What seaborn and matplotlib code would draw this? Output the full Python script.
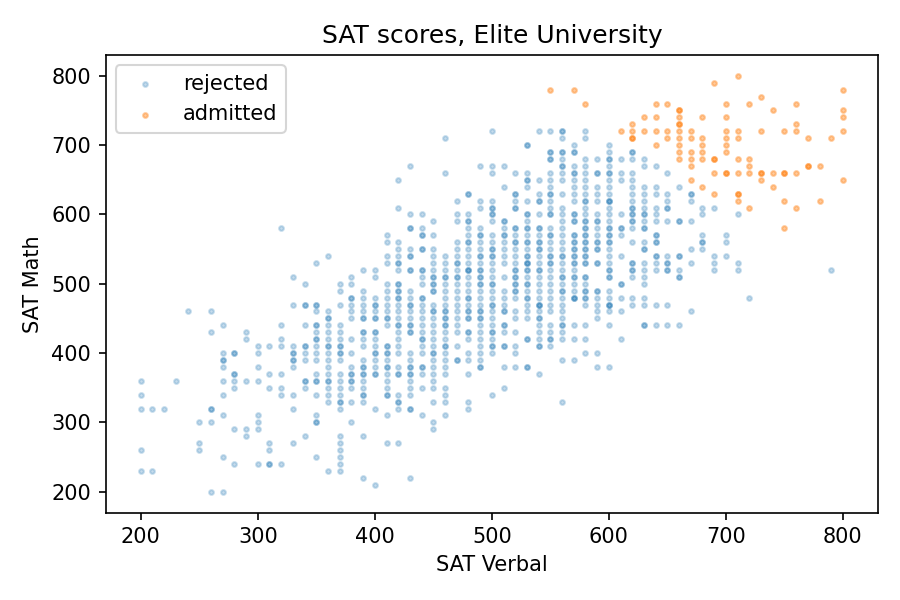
import matplotlib
matplotlib.use("Agg")
import matplotlib.pyplot as plt
import seaborn as sns
import pandas as pd

# Rejected applicants: SAT Math scores for each SAT Verbal column
r200 = [360, 340, 320, 260, 230]
r210 = [320, 230]
r220 = [320]
r230 = [360]
r240 = [460]
r250 = [300, 270, 260]
r260 = [460, 430, 320, 320, 300, 200]
r270 = [440, 400, 390, 390, 380, 360, 340, 310, 250, 200]
r280 = [400, 400, 370, 370, 360, 350, 290, 240]
r290 = [430, 420, 360, 290, 280]
r300 = [410, 400, 380, 360, 310, 300, 290, 240]
r310 = [410, 370, 350, 270, 260, 240, 240]
r320 = [580, 440, 420, 410, 370, 350, 340, 240]
r330 = [510, 470, 410, 400, 400, 390, 390, 380, 340, 320, 270]
r340 = [500, 470, 470, 440, 410, 410, 400, 390, 360, 360, 350, 280]
r350 = [530, 470, 470, 460, 440, 440, 430, 420, 420, 410, 400, 390, 370, 360, 360, 340, 310, 300, 300, 250]
r360 = [540, 460, 450, 450, 440, 430, 420, 410, 410, 400, 390, 380, 370, 360, 360, 350, 340, 330, 230]
r370 = [500, 490, 470, 440, 430, 420, 410, 410, 400, 400, 390, 370, 360, 350, 340, 330, 330, 320, 280, 270, 260, 250, 240, 230]
r380 = [510, 500, 480, 480, 470, 460, 450, 420, 400, 380, 370, 370, 360, 360, 350, 330, 300]
r390 = [520, 490, 480, 470, 460, 450, 450, 430, 430, 420, 410, 390, 380, 380, 370, 370, 360, 350, 340, 340, 330, 280, 220]
r400 = [520, 510, 480, 470, 470, 460, 450, 450, 430, 430, 420, 410, 400, 400, 390, 380, 370, 370, 320, 210]
r410 = [570, 560, 540, 530, 500, 490, 480, 470, 460, 450, 450, 440, 410, 410, 400, 400, 390, 380, 380, 370, 360, 350, 340, 340, 310, 270]
r420 = [650, 610, 560, 550, 540, 530, 530, 520, 500, 500, 490, 490, 480, 480, 470, 460, 450, 440, 440, 430, 420, 410, 400, 380, 370, 370, 340, 330, 330, 320, 270]
r430 = [670, 600, 580, 580, 550, 540, 540, 520, 520, 490, 480, 470, 470, 460, 450, 440, 440, 430, 430, 400, 390, 380, 380, 370, 370, 360, 350, 340, 320, 320, 220]
r440 = [600, 580, 570, 570, 550, 550, 520, 520, 510, 500, 480, 480, 470, 460, 450, 440, 430, 420, 420, 410, 400, 380, 380, 370, 350, 310]
r450 = [590, 570, 550, 540, 530, 520, 510, 510, 500, 500, 490, 490, 470, 460, 460, 450, 440, 430, 420, 410, 400, 400, 390, 380, 370, 360, 350, 330, 300, 290]
r460 = [710, 660, 540, 530, 520, 510, 510, 500, 490, 480, 470, 460, 460, 450, 450, 440, 440, 430, 420, 410, 410, 400, 390, 380, 370, 350, 340, 330, 310]
r470 = [620, 600, 590, 560, 550, 540, 530, 530, 520, 510, 510, 500, 490, 480, 470, 460, 450, 440, 430, 410, 390, 390]
r480 = [630, 630, 600, 590, 590, 580, 570, 560, 560, 550, 540, 530, 520, 520, 520, 510, 500, 490, 480, 480, 470, 460, 460, 450, 450, 430, 430, 420, 400, 390, 370, 330, 320]
r490 = [670, 620, 610, 580, 570, 570, 560, 550, 540, 540, 530, 520, 520, 510, 510, 500, 500, 490, 480, 470, 460, 460, 450, 450, 440, 430, 420, 410, 400, 390, 380, 380]
r500 = [720, 670, 660, 620, 610, 610, 600, 600, 590, 570, 560, 550, 550, 540, 540, 530, 520, 510, 500, 500, 490, 480, 470, 470, 460, 450, 440, 430, 430, 420, 410, 410, 400, 340]
r510 = [670, 640, 590, 590, 580, 570, 570, 560, 550, 540, 530, 510, 490, 480, 470, 460, 460, 440, 440, 430, 410, 410, 380, 350]
r520 = [660, 630, 630, 620, 610, 610, 580, 580, 570, 560, 560, 550, 540, 530, 520, 520, 510, 510, 500, 500, 490, 490, 480, 460, 450, 430, 410, 400, 380]
r530 = [700, 700, 660, 650, 650, 640, 620, 600, 600, 590, 580, 580, 570, 560, 560, 550, 540, 540, 530, 530, 530, 520, 520, 510, 500, 500, 490, 480, 480, 470, 460, 450, 420, 420, 380, 380]
r540 = [720, 650, 630, 620, 620, 600, 580, 580, 570, 560, 560, 550, 550, 540, 530, 520, 520, 510, 500, 490, 480, 470, 470, 470, 460, 450, 450, 440, 430, 420, 410, 410, 370]
r550 = [720, 690, 690, 680, 680, 660, 650, 640, 630, 630, 620, 610, 600, 600, 580, 570, 570, 560, 550, 540, 540, 530, 530, 520, 510, 500, 490, 480, 470, 460, 440, 430, 420, 420, 410]
r560 = [720, 720, 710, 690, 690, 680, 670, 670, 660, 650, 630, 610, 600, 590, 580, 570, 560, 550, 540, 540, 530, 520, 510, 510, 500, 490, 490, 480, 470, 460, 450, 440, 440, 430, 420, 390, 330]
r570 = [700, 690, 690, 670, 660, 660, 650, 640, 630, 620, 600, 600, 590, 590, 570, 570, 560, 560, 550, 550, 540, 540, 530, 530, 520, 510, 510, 500, 490, 480, 480, 480, 440, 420, 390]
r580 = [720, 710, 680, 670, 660, 650, 640, 630, 620, 620, 610, 600, 590, 590, 580, 580, 570, 570, 560, 560, 550, 550, 540, 540, 530, 530, 510, 510, 500, 490, 490, 480, 480, 470, 440, 420, 400]
r590 = [680, 660, 660, 640, 630, 620, 600, 590, 590, 580, 570, 560, 560, 550, 550, 530, 530, 490, 490, 480, 470, 460, 450, 400, 380]
r600 = [700, 690, 680, 680, 670, 660, 660, 650, 640, 630, 620, 620, 620, 610, 600, 590, 580, 580, 570, 570, 560, 560, 550, 540, 530, 520, 520, 510, 510, 490, 480, 470, 470, 470, 460, 440, 380]
r610 = [680, 660, 650, 600, 580, 580, 570, 540, 500, 500, 480, 460, 420]
r620 = [690, 690, 680, 660, 650, 640, 630, 620, 610, 610, 600, 600, 590, 590, 580, 560, 530, 530, 520, 520, 510, 480, 470]
r630 = [680, 670, 640, 630, 620, 610, 600, 600, 590, 580, 580, 560, 550, 550, 530, 520, 510, 500, 480, 470, 440, 440]
r640 = [670, 640, 630, 610, 600, 590, 570, 570, 560, 560, 540, 540, 530, 520, 470, 440]
r650 = [660, 630, 620, 610, 610, 590, 540, 530, 530, 520, 520, 470, 440]
r660 = [640, 590, 590, 540, 540, 520, 510, 510, 440]
r670 = [630, 630, 620, 590, 550, 530, 460]
r680 = [610, 600, 570, 560, 560, 550]
r690 = [610, 540, 530, 520]
r700 = [570, 560, 540]
r710 = [600, 530, 520]
r720 = [480]
r790 = [520]

# Admitted applicants: SAT Math scores for each SAT Verbal column
a550 = [780]
a570 = [780]
a580 = [760]
a610 = [720]
a620 = [730, 720, 710, 710]
a630 = [740, 720]
a640 = [760, 740, 720, 700]
a650 = [760, 720, 710]
a660 = [750, 750, 740, 730, 730, 720, 710, 700, 690, 680]
a670 = [720, 710, 690, 680, 670, 650]
a680 = [740, 710, 700, 690, 680, 640]
a690 = [790, 680, 680, 660, 630]
a700 = [760, 740, 720, 710, 700, 690, 660, 660]
a710 = [800, 720, 710, 680, 660, 630, 630, 620]
a720 = [760, 680, 670, 660, 610]
a730 = [770, 720, 660, 660, 650]
a740 = [750, 660, 640]
a750 = [720, 660, 660, 620, 580]
a760 = [760, 730, 720, 660, 610]
a770 = [710, 670, 670]
a780 = [670, 620]
a790 = [710]
a800 = [780, 750, 740, 720, 650]

rejected_cols = {
    200: r200, 210: r210, 220: r220, 230: r230, 240: r240, 250: r250,
    260: r260, 270: r270, 280: r280, 290: r290, 300: r300, 310: r310,
    320: r320, 330: r330, 340: r340, 350: r350, 360: r360, 370: r370,
    380: r380, 390: r390, 400: r400, 410: r410, 420: r420, 430: r430,
    440: r440, 450: r450, 460: r460, 470: r470, 480: r480, 490: r490,
    500: r500, 510: r510, 520: r520, 530: r530, 540: r540, 550: r550,
    560: r560, 570: r570, 580: r580, 590: r590, 600: r600, 610: r610,
    620: r620, 630: r630, 640: r640, 650: r650, 660: r660, 670: r670,
    680: r680, 690: r690, 700: r700, 710: r710, 720: r720, 790: r790,
}
admitted_cols = {
    550: a550, 570: a570, 580: a580, 610: a610, 620: a620, 630: a630,
    640: a640, 650: a650, 660: a660, 670: a670, 680: a680, 690: a690,
    700: a700, 710: a710, 720: a720, 730: a730, 740: a740, 750: a750,
    760: a760, 770: a770, 780: a780, 790: a790, 800: a800,
}


def to_frame(cols):
    rows = [(v, m) for v, ms in cols.items() for m in ms]
    return pd.DataFrame(rows, columns=["verbal", "math"])


rej = to_frame(rejected_cols)
adm = to_frame(admitted_cols)

fig, ax = plt.subplots(figsize=(6, 4), dpi=150)
sns.scatterplot(data=rej, x="verbal", y="math", ax=ax, color="C0",
                edgecolor="C0", linewidth=1.0, s=5, alpha=0.25,
                label="rejected")
sns.scatterplot(data=adm, x="verbal", y="math", ax=ax, color="C1",
                edgecolor="C1", linewidth=1.0, s=5, alpha=0.4,
                label="admitted")

ax.set_title("SAT scores, Elite University")
ax.set_xlabel("SAT Verbal")
ax.set_ylabel("SAT Math")
ax.legend(loc="upper left")
fig.subplots_adjust(left=0.1174, right=0.9756, bottom=0.1458, top=0.9083)
fig.savefig("out.png", dpi=150)
